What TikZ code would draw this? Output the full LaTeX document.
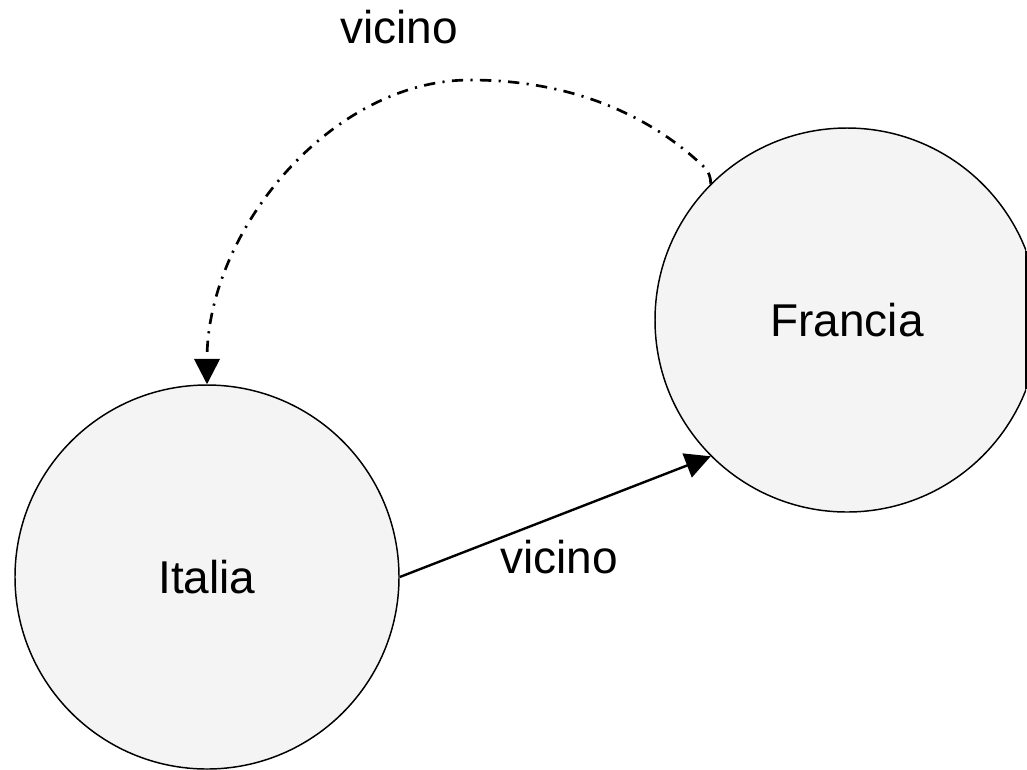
\documentclass[tikz,border=0pt]{standalone}
\usepackage{fontspec}
\setmainfont{Liberation Sans}
\usetikzlibrary{arrows.meta}
\definecolor{nodefill}{HTML}{F4F4F4}
\begin{document}
\begin{tikzpicture}[x=0.75pt,y=-0.75pt,
  country/.style={circle,draw=black,line width=1.1pt,fill=nodefill,
    minimum size=288pt,inner sep=0pt,font=\fontsize{34.5}{40}\selectfont},
  rel/.style={line width=1.8pt,-{Triangle[length=19pt,width=19pt]}},
  reldashdot/.style={rel,line width=2pt,dash pattern=on 8.5pt off 5.5pt on 1.6pt off 5.5pt},
  lbl/.style={anchor=base,inner sep=0pt,font=\fontsize{34.5}{40}\selectfont}]
\useasboundingbox (0,0) rectangle (1027,769);
\fill[white] (0,0) rectangle (1027,769);

% Italia
\node[country] (it) at (207,577) {Italia};

% Francia, cut off at the right border of the page
\begin{scope}
  \clip (0,0) rectangle (1026,769);
  \node[country] (fr) at (847,320) {Francia};
\end{scope}
\draw[line width=1.1pt] (1026,251) -- (1026,389);

% Italia -> Francia
\draw[rel] (it.east) -- (fr.225);
\node[lbl] (l1) at (559,573) {vicino};

% Francia -> Italia (dash-dot arc over the top)
\coordinate (c1) at (703,166);
\coordinate (c2) at (470,80);
\draw[reldashdot] (fr.135) .. controls ++(0,-7) and (709,172) .. (c1)
  .. controls (660,125) and (585,80) .. (c2)
  .. controls (332,80) and (207,230) .. (it.north);
\node[lbl] (l2) at (399,43) {vicino};
\end{tikzpicture}
\end{document}
